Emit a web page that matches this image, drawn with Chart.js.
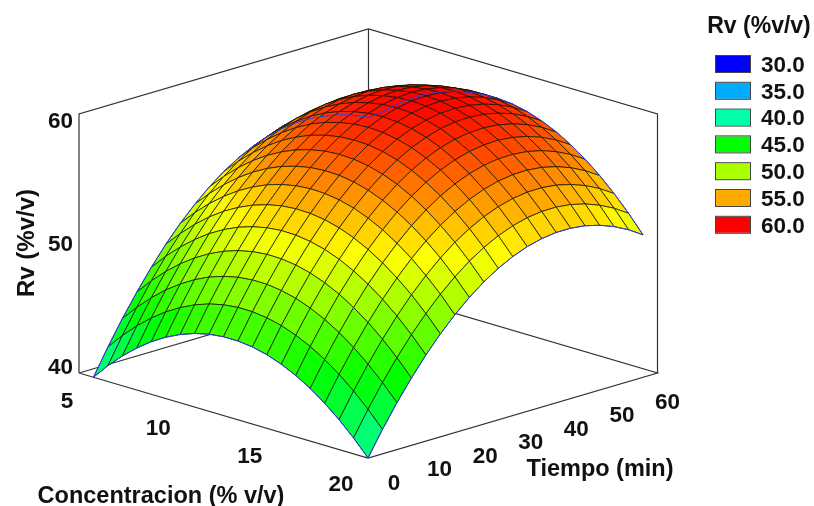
<!DOCTYPE html>
<html>
<head>
<meta charset="utf-8">
<script src="https://cdn.jsdelivr.net/npm/chart.js@4"></script>
<style>
html, body { margin: 0; padding: 0; background: #fff; }
canvas { display: block; }
</style>
</head>
<body>
<canvas id="chart" width="814" height="506"></canvas>
<script>
const concentracion = [5.75, 6.5, 7.25, 8, 8.75, 9.5, 10.25, 11, 11.75, 12.5, 13.25, 14, 14.75, 15.5, 16.25, 17, 17.75, 18.5, 19.25, 20]
const tiempo = [0, 3, 6, 9, 12, 15, 18, 21, 24, 27, 30, 33, 36, 39, 42, 45, 48, 51, 54, 57]
// one row per concentracion, one column per tiempo
const rv = [
  [40.00, 42.01, 43.88, 45.60, 47.18, 48.63, 49.92, 51.06, 52.07, 52.93, 53.64, 54.21, 54.64, 54.92, 55.06, 55.06, 54.91, 54.70, 54.32, 53.82],
  [41.22, 43.22, 45.07, 46.79, 48.36, 49.78, 51.07, 52.21, 53.20, 54.05, 54.76, 55.31, 55.73, 56.01, 56.14, 56.12, 55.96, 55.66, 55.21, 54.62],
  [42.30, 44.29, 46.14, 47.84, 49.40, 50.82, 52.09, 53.22, 54.21, 55.04, 55.74, 56.29, 56.70, 56.96, 57.08, 57.06, 56.89, 56.57, 56.12, 55.52],
  [43.24, 45.23, 47.07, 48.76, 50.31, 51.72, 52.98, 54.10, 55.08, 55.90, 56.59, 57.13, 57.53, 57.79, 57.90, 57.86, 57.69, 57.36, 56.90, 56.29],
  [44.06, 46.03, 47.85, 49.54, 51.09, 52.49, 53.74, 54.85, 55.82, 56.64, 57.31, 57.85, 58.24, 58.49, 58.58, 58.54, 58.36, 58.03, 57.55, 56.93],
  [44.73, 46.69, 48.52, 50.19, 51.73, 53.11, 54.36, 55.46, 56.42, 57.23, 57.91, 58.43, 58.81, 59.05, 59.14, 59.09, 58.90, 58.55, 58.07, 57.44],
  [45.27, 47.23, 49.05, 50.71, 52.24, 53.61, 54.86, 55.95, 56.90, 57.70, 58.37, 58.88, 59.25, 59.48, 59.57, 59.51, 59.30, 58.95, 58.47, 57.83],
  [45.68, 47.63, 49.43, 51.09, 52.61, 53.98, 55.21, 56.29, 57.23, 58.03, 58.68, 59.19, 59.55, 59.77, 59.85, 59.78, 59.57, 59.21, 58.71, 58.07],
  [45.95, 47.89, 49.69, 51.34, 52.85, 54.22, 55.44, 56.52, 57.46, 58.24, 58.89, 59.39, 59.75, 59.96, 60.04, 59.96, 59.74, 59.38, 58.87, 58.22],
  [46.08, 48.02, 49.81, 51.46, 52.97, 54.32, 55.54, 56.61, 57.54, 58.32, 58.97, 59.46, 59.81, 60.02, 60.08, 60.00, 59.78, 59.41, 58.90, 58.24],
  [46.08, 48.01, 49.80, 51.44, 52.94, 54.29, 55.50, 56.57, 57.49, 58.27, 58.90, 59.39, 59.74, 59.94, 60.00, 59.91, 59.68, 59.31, 58.79, 58.13],
  [45.95, 47.87, 49.65, 51.29, 52.78, 54.13, 55.33, 56.39, 57.31, 58.08, 58.71, 59.19, 59.53, 59.73, 59.78, 59.69, 59.45, 59.07, 58.55, 57.88],
  [45.68, 47.60, 49.37, 51.00, 52.49, 53.83, 55.03, 56.08, 56.99, 57.76, 58.38, 58.85, 59.19, 59.38, 59.42, 59.32, 59.08, 58.70, 58.17, 57.49],
  [45.27, 47.18, 48.95, 50.58, 52.06, 53.39, 54.58, 55.63, 56.54, 57.29, 57.91, 58.38, 58.71, 58.89, 58.93, 58.83, 58.58, 58.19, 57.65, 56.97],
  [44.73, 46.64, 48.40, 50.02, 51.49, 52.82, 54.01, 55.05, 55.95, 56.70, 57.31, 57.77, 58.09, 58.27, 58.31, 58.19, 57.94, 57.54, 57.00, 56.31],
  [44.06, 45.96, 47.71, 49.32, 50.79, 52.11, 53.29, 54.33, 55.22, 55.97, 56.57, 57.03, 57.35, 57.52, 57.54, 57.43, 57.17, 56.76, 56.21, 55.52],
  [43.24, 45.14, 46.89, 48.49, 49.96, 51.27, 52.45, 53.48, 54.36, 55.10, 55.70, 56.15, 56.46, 56.63, 56.65, 56.53, 56.26, 55.85, 55.29, 54.59],
  [42.30, 44.19, 45.93, 47.53, 48.99, 50.30, 51.46, 52.49, 53.37, 54.10, 54.69, 55.14, 55.44, 55.60, 55.62, 55.49, 55.21, 54.80, 54.24, 53.53],
  [41.22, 43.10, 44.84, 46.43, 47.88, 49.18, 50.35, 51.36, 52.24, 52.97, 53.55, 53.99, 54.29, 54.44, 54.45, 54.32, 54.04, 53.61, 53.05, 52.33],
  [40.00, 41.88, 43.61, 45.19, 46.64, 47.94, 49.09, 50.10, 50.97, 51.69, 52.27, 52.71, 53.00, 53.15, 53.15, 53.01, 52.72, 52.29, 51.72, 51.00]
]
const concTicks = [5, 10, 15, 20]
const tiempoTicks = [0, 10, 20, 30, 40, 50, 60]
const rvTicks = [40, 50, 60]
const legendLevels = [30, 35, 40, 45, 50, 55, 60]
const legendHues = [240, 200, 160, 120, 80, 40, 0]

// parallel projection of the 3d box onto the flat scatter scales
function project(c, t, z) {
  const u = (c - 5) / 15, v = t / 60, w = (z - 40) / 20
  return { x: 79 + 289 * u + 289.5 * v, y: 373 + 85 * u - 85 * v - 259 * w }
}

// colour ramp walks the hue between the legend levels, that is how yellow shows up near 52.5
function colorFor(z) {
  const p = Math.max(0, Math.min(5.999, (z - 30) / 5))
  const i = Math.floor(p), f = p - i
  const hue = legendHues[i] + (legendHues[i + 1] - legendHues[i]) * f
  return 'hsl(' + hue + ',100%,50%)'
}

function path(points, color, width) {
  return { data: points, showLine: true, fill: false, borderColor: color, borderWidth: width, pointRadius: 0, tension: 0 }
}

// first dataset ends up on top, so: outline, then cells front to back, then the box
const datasets = []
const last = concentracion.length - 1, lastT = tiempo.length - 1
const P = (i, j) => project(concentracion[i], tiempo[j], rv[i][j])

datasets.push(path(concentracion.map((c, i) => P(i, 0)), '#2a3ce8', 1))
datasets.push(path(concentracion.map((c, i) => P(i, lastT)), '#2a3ce8', 1))
datasets.push(path(tiempo.map((t, j) => P(0, j)), '#2a3ce8', 1))
datasets.push(path(tiempo.map((t, j) => P(last, j)), '#2a3ce8', 1))

for (let i = last - 1; i >= 0; i--) {
  for (let j = 0; j < lastT; j++) {
    const mean = (rv[i][j] + rv[i + 1][j] + rv[i][j + 1] + rv[i + 1][j + 1]) / 4
    datasets.push({
      data: [P(i, j), P(i + 1, j), P(i + 1, j + 1), P(i, j + 1), P(i, j)],
      showLine: true,
      fill: 'shape',
      backgroundColor: colorFor(mean),
      borderColor: 'rgba(20,20,0,0.85)',
      borderWidth: 0.9,
      pointRadius: 0,
      tension: 0
    })
  }
}

const boxLines = [
  [[5, 0, 40], [20, 0, 40], [20, 60, 40], [5, 60, 40], [5, 0, 40]],
  [[5, 0, 40], [5, 0, 60], [5, 60, 60], [20, 60, 60], [20, 60, 40]],
  [[5, 60, 40], [5, 60, 60]]
]
boxLines.forEach(l => datasets.push(path(l.map(p => project(p[0], p[1], p[2])), '#333', 1.2)))

const textPlugin = {
  id: 'texts',
  afterDraw(chart) {
    const ctx = chart.ctx, sx = chart.scales.x, sy = chart.scales.y
    const put = (text, x, y, align) => {
      ctx.textAlign = align || 'center'
      ctx.fillText(text, sx.getPixelForValue(x), sy.getPixelForValue(y) + 1.5)
    }
    ctx.save()
    ctx.fillStyle = '#111'
    ctx.textBaseline = 'middle'
    ctx.font = 'bold 22.5px "Liberation Sans", Arial, sans-serif'
    concTicks.forEach(c => {
      const p = project(c, 0, 40), u = (c - 5) / 15
      put(String(c), p.x - 12 - 15 * u, p.y + 27 - 2 * u)
    })
    tiempoTicks.forEach(t => {
      const p = project(20, t, 40), v = t / 60
      put(String(t), p.x + 26 - 16 * v, p.y + 24 + 4 * v)
    })
    rvTicks.forEach(z => {
      const p = project(5, 0, z)
      put(String(z), 73, p.y + 6.5 - 13.5 * (60 - z) / 20, 'right')
    })
    ctx.font = 'bold 23.5px "Liberation Sans", Arial, sans-serif'
    put('Concentracion (% v/v)', 161, 495.5)
    put('Tiempo (min)', 600, 468)
    ctx.font = 'bold 23px "Liberation Sans", Arial, sans-serif'
    put('Rv (%v/v)', 759, 25)
    ctx.save()
    ctx.translate(27, 243)
    ctx.rotate(-Math.PI / 2)
    ctx.textAlign = 'center'
    ctx.font = 'bold 24px "Liberation Sans", Arial, sans-serif'
    ctx.fillText('Rv (%v/v)', 0, 0)
    ctx.restore()

    // legend, top level first in reading order
    ctx.font = 'bold 22.5px "Liberation Sans", Arial, sans-serif'
    legendLevels.forEach((level, i) => {
      const y = 64 + i * 26.8
      ctx.fillStyle = colorFor(level)
      ctx.fillRect(715, y - 8, 35, 16)
      ctx.strokeStyle = '#444'
      ctx.lineWidth = 1
      ctx.strokeRect(715.5, y - 8.5, 35, 17)
      ctx.fillStyle = '#111'
      put(level.toFixed(1), 761, y, 'left')
    })
    ctx.restore()
  }
}

new Chart(document.getElementById('chart'), {
  type: 'scatter',
  data: { datasets },
  plugins: [textPlugin],
  options: {
    responsive: false,
    animation: false,
    events: [],
    layout: { padding: 0 },
    plugins: { legend: { display: false }, tooltip: { enabled: false } },
    scales: {
      x: { type: 'linear', display: false, min: 0, max: 814 },
      y: { type: 'linear', display: false, min: 0, max: 506, reverse: true }
    }
  }
})
</script>
</body>
</html>
